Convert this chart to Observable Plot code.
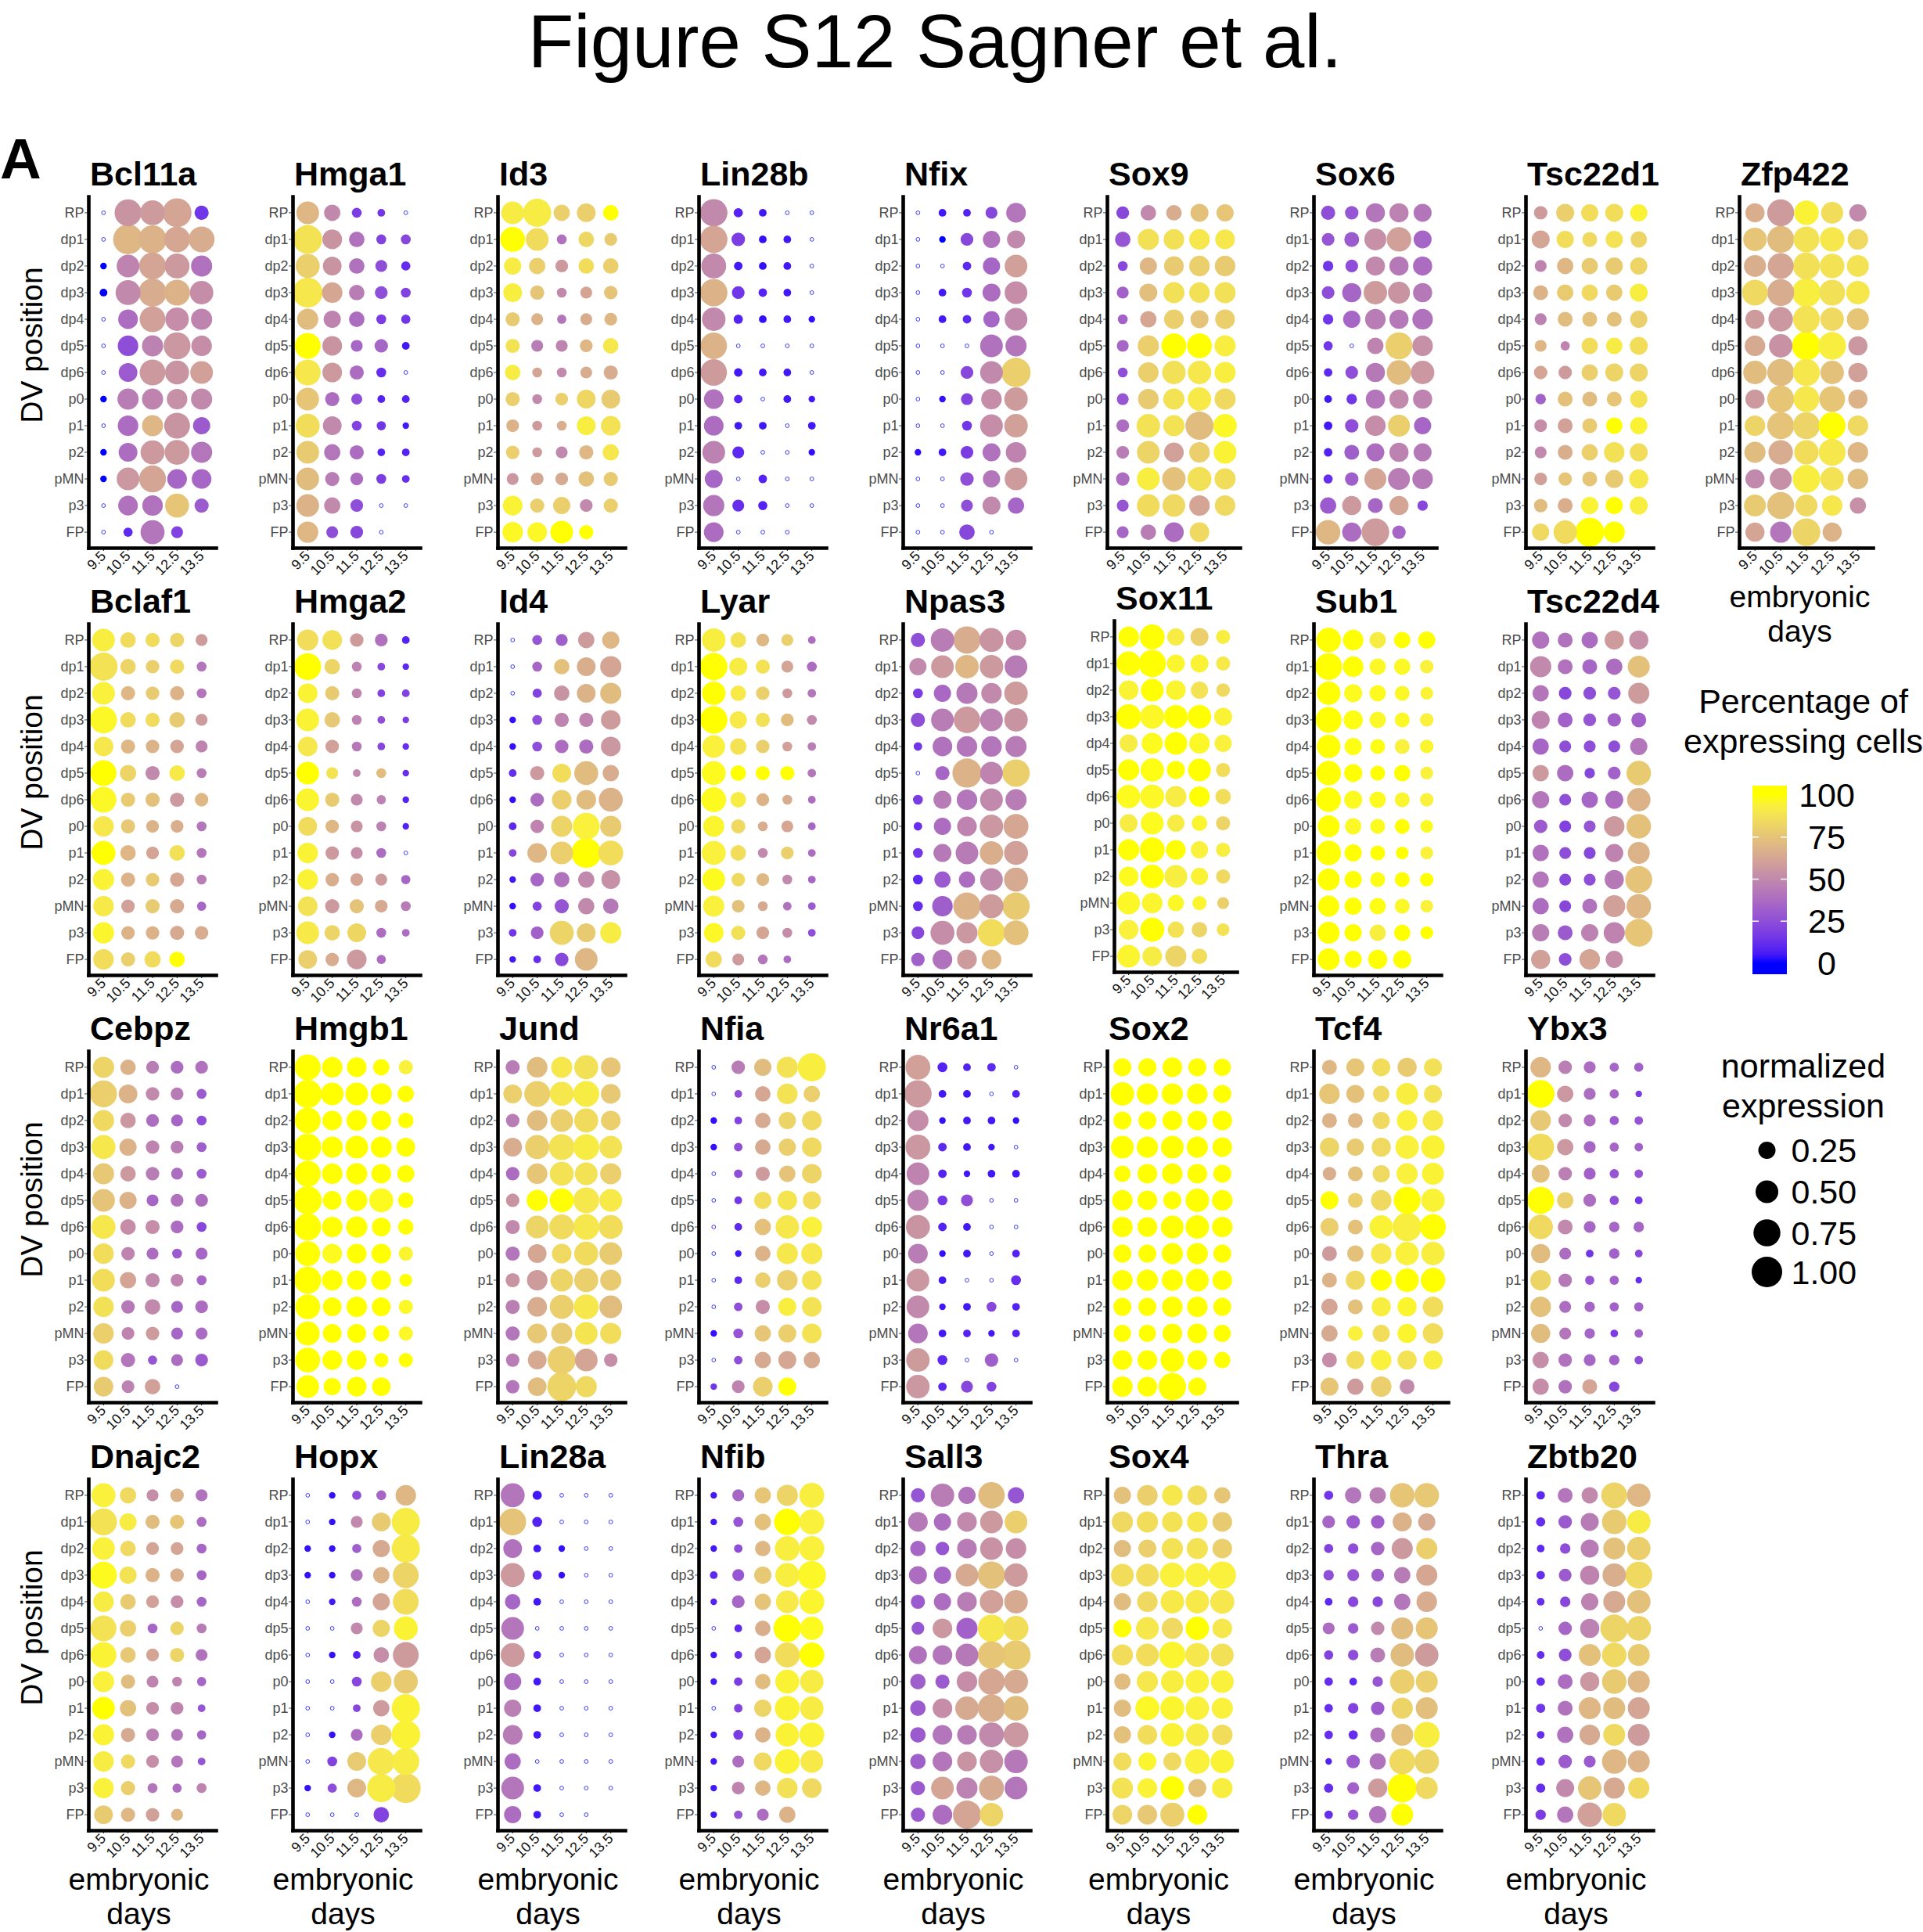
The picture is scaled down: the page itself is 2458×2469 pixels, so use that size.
<!DOCTYPE html>
<html><head><meta charset="utf-8">
<script src="https://cdn.jsdelivr.net/npm/d3@7"></script>
<script src="https://cdn.jsdelivr.net/npm/@observablehq/plot@0.6"></script>
<style>
html,body{margin:0;padding:0;background:#fff;overflow:hidden;}
#page{position:relative;width:2458px;height:2469px;overflow:hidden;background:#fff;}
</style></head><body><div id="page"></div>
<script>
// ---------- categories ----------
const days = ["9.5","10.5","11.5","12.5","13.5"];
const positions = ["RP","dp1","dp2","dp3","dp4","dp5","dp6","p0","p1","p2","pMN","p3","FP"];
const panelRows = [
  ["Bcl11a","Hmga1","Id3","Lin28b","Nfix","Sox9","Sox6","Tsc22d1","Zfp422"],
  ["Bclaf1","Hmga2","Id4","Lyar","Npas3","Sox11","Sub1","Tsc22d4"],
  ["Cebpz","Hmgb1","Jund","Nfia","Nr6a1","Sox2","Tcf4","Ybx3"],
  ["Dnajc2","Hopx","Lin28a","Nfib","Sall3","Sox4","Thra","Zbtb20"]
];
const colorTicks = [0,25,50,75,100];
const sizeTicks = [0.25,0.50,0.75,1.00];

// ---------- values: normalized expression (x100) and % expressing cells, row-major (RP..FP) x (9.5..13.5) ----------
const Bcl11a_expr = [0,75,62,88,15, 0,95,83,68,68, 1,50,75,62,42, 2,62,83,68,54, 0,35,68,54,42, 0,39,42,75,39, 0,31,68,57,50, 1,42,42,39,42, 0,39,42,68,25, 1,31,57,62,42, 1,50,75,35,35, 0,35,39,57,15, 0,4,57,9,null];
const Bcl11a_pct  = [0,55,58,62,15, 0,70,68,63,65, 0,48,62,57,40, 0,50,65,68,52, 0,38,60,52,48, 0,25,47,56,52, 0,30,57,55,60, 0,45,48,53,50, 0,38,70,55,30, 0,38,57,57,42, 0,56,62,35,35, 0,40,40,76,30, 0,10,42,20,null];
const Hmga1_expr = [50,22,5,2,0, 88,35,19,5,5, 57,31,19,9,4, 95,39,19,11,5, 42,25,19,5,4, 68,35,9,13,2, 68,35,15,5,0, 50,15,7,2,2, 57,31,5,4,1, 50,22,15,2,2, 50,15,11,5,2, 50,22,11,0,0, 42,9,11,0,null];
const Hmga1_pct  = [70,50,18,15,0, 88,55,40,20,22, 80,55,40,25,12, 90,63,45,25,20, 72,48,38,18,15, 100,55,35,35,5, 90,57,38,12,0, 76,38,25,8,8, 86,50,20,15,5, 78,42,38,8,8, 72,45,38,18,12, 68,50,25,0,0, 70,25,22,0,null];
const Id3_expr = [50,83,22,31,19, 62,50,5,19,11, 25,22,11,19,19, 31,15,5,9,13, 15,9,4,9,11, 15,9,9,11,19, 19,5,5,9,15, 15,5,11,31,31, 11,5,5,31,35, 13,5,9,15,22, 9,11,11,19,15, 35,15,25,11,15, 39,35,50,15,null];
const Id3_pct  = [92,92,80,80,100, 100,85,40,83,78, 92,80,57,86,80, 93,76,50,62,75, 78,68,42,65,70, 88,45,48,70,90, 92,62,50,65,65, 80,50,80,83,78, 68,58,66,93,88, 80,58,50,70,90, 56,63,64,74,78, 95,80,80,50,80, 97,97,100,100,null];
const Lin28b_expr = [78,4,2,0,0, 78,13,2,2,0, 62,3,2,2,0, 78,11,3,2,0, 54,4,2,2,1, 72,0,0,0,0, 72,3,2,2,0, 35,3,0,2,1, 35,2,2,0,2, 50,9,0,0,1, 28,0,3,0,0, 42,9,4,0,0, 35,0,0,0,null];
const Lin28b_pct  = [50,8,5,0,0, 62,18,3,5,0, 50,5,3,5,0, 68,15,8,5,0, 50,8,3,5,3, 68,0,0,0,0, 58,5,5,5,0, 40,8,0,5,5, 38,5,5,0,5, 47,10,0,0,3, 35,0,8,0,0, 42,12,8,0,0, 38,0,0,0,null];
const Nfix_expr = [0,2,2,9,35, 0,1,11,25,28, 0,0,3,25,50, 0,2,5,28,50, 0,2,3,22,50, 0,0,0,50,42, 0,0,11,50,90, 0,1,9,39,54, 0,0,5,50,54, 1,2,11,28,39, 0,0,13,25,50, 0,0,9,28,22, 0,0,19,0,null];
const Nfix_pct  = [0,5,8,22,42, 0,0,22,40,50, 0,0,10,35,60, 0,5,15,38,52, 0,5,10,35,50, 0,0,0,40,42, 0,0,22,50,80, 0,3,20,52,58, 0,0,15,52,60, 3,5,18,40,48, 0,0,25,42,58, 0,0,25,50,35, 0,0,22,0,null];
const Sox9_expr = [11,19,19,28,25, 19,42,39,39,35, 5,25,35,39,39, 9,28,42,39,42, 5,22,35,28,35, 9,42,62,62,42, 5,39,54,54,42, 9,39,42,54,42, 11,54,42,83,54, 11,50,35,39,50, 13,50,54,57,42, 9,50,50,39,39, 9,19,35,35,null];
const Sox9_pct  = [22,50,65,74,76, 28,87,87,90,90, 22,70,78,80,78, 33,73,87,87,87, 33,63,80,75,80, 35,80,100,100,93, 25,80,87,90,93, 28,78,88,91,84, 38,88,88,72,97, 45,82,60,80,95, 38,93,74,87,86, 28,85,84,62,84, 35,45,38,84,null];
const Sox6_expr = [15,13,33,33,28, 11,17,46,60,28, 6,11,33,33,33, 11,33,54,46,33, 6,25,39,33,39, 4,0,22,75,39, 3,11,33,60,54, 2,6,33,33,33, 3,13,39,46,25, 3,17,28,33,28, 4,13,46,46,39, 22,33,17,33,6, 60,33,80,13,null];
const Sox6_pct  = [25,28,42,47,42, 28,30,53,60,35, 15,25,50,43,38, 25,35,58,55,43, 15,35,45,43,40, 15,0,48,80,53, 10,25,43,72,56, 5,15,42,50,48, 5,25,52,80,35, 8,32,38,47,43, 12,32,62,45,43, 30,57,35,62,22, 70,38,58,35,null];
const Tsc22d1_expr = [13,28,25,28,25, 28,25,17,25,22, 9,22,22,25,25, 17,22,22,22,28, 9,17,17,17,25, 9,4,22,22,28, 13,13,22,28,28, 6,17,17,17,25, 11,17,17,22,25, 9,17,22,39,28, 11,13,17,28,33, 13,17,25,25,28, 25,54,88,42,null];
const Tsc22d1_pct  = [58,80,86,86,95, 62,86,84,88,82, 48,70,78,78,82, 68,78,84,78,93, 47,72,74,74,80, 70,48,86,92,86, 62,58,80,82,82, 33,74,72,76,88, 52,60,78,100,95, 50,66,80,87,86, 60,76,76,78,90, 72,66,95,100,93, 84,85,100,100,null];
const Zfp422_expr = [33,75,60,46,25, 54,75,68,60,39, 46,68,75,60,46, 68,75,88,68,54, 33,60,75,54,46, 39,54,88,80,33, 54,75,75,54,33, 33,75,68,68,33, 39,75,75,75,39, 42,60,60,75,39, 33,46,80,54,39, 46,75,46,39,22, 33,42,80,33,null];
const Zfp422_pct  = [66,58,95,86,50, 76,72,88,90,84, 66,62,87,88,88, 84,65,93,87,90, 58,56,88,84,76, 64,54,100,93,56, 72,72,90,74,60, 57,76,90,76,68, 82,75,82,100,84, 72,65,86,90,70, 50,53,93,88,72, 78,74,84,90,53, 62,42,82,68,null];
const Bclaf1_expr = [50,19,15,15,9, 83,19,13,15,5, 50,15,13,15,5, 75,19,15,19,9, 35,15,13,13,9, 68,22,15,19,5, 68,15,15,15,13, 39,15,11,11,5, 57,19,11,19,5, 42,15,13,15,5, 39,13,15,15,4, 42,13,13,15,13, 39,15,22,19,null];
const Bclaf1_pct  = [93,85,85,82,58, 88,82,80,84,42, 94,70,78,68,42, 97,85,85,78,58, 90,70,68,62,48, 100,82,50,91,45, 97,78,74,57,70, 90,77,68,66,42, 100,70,62,87,42, 95,68,78,63,45, 91,60,78,64,35, 96,68,68,64,65, 86,80,85,100,null];
const Hmga2_expr = [42,35,13,11,2, 75,19,5,2,1, 35,15,5,2,2, 50,19,5,2,1, 35,13,5,2,1, 50,9,2,5,1, 50,15,9,4,1, 31,13,9,5,1, 39,13,9,5,0, 39,13,11,9,4, 35,15,15,11,5, 50,19,31,5,2, 31,13,35,4,null];
const Hmga2_pct  = [86,87,58,40,8, 100,82,47,22,10, 95,78,48,20,20, 95,77,47,25,18, 90,60,43,22,12, 100,88,50,72,12, 96,78,50,47,8, 85,70,55,47,8, 95,57,52,38,0, 95,66,62,58,35, 88,57,75,64,44, 91,82,83,38,38, 80,65,57,38,null];
const Id4_expr = [0,5,9,22,25, 0,5,19,31,42, 0,4,19,31,42, 1,5,15,15,35, 1,5,13,15,35, 2,15,31,57,22, 1,13,35,35,57, 2,13,42,75,42, 2,35,50,95,62, 1,13,19,22,31, 1,4,15,22,19, 2,11,57,31,42, 1,2,13,50,null];
const Id4_pct  = [0,28,32,58,70, 0,35,74,66,62, 0,20,55,68,72, 3,25,48,48,58, 3,25,38,38,56, 12,57,86,72,65, 3,38,80,72,68, 10,48,82,94,78, 22,70,80,100,86, 5,35,40,50,53, 3,20,28,50,43, 15,33,82,78,92, 5,12,22,70,null];
const Lyar_expr = [54,19,11,9,2, 78,28,15,9,5, 54,19,13,5,3, 78,25,15,11,5, 50,22,13,5,3, 57,19,15,15,3, 62,19,11,5,2, 42,15,5,9,2, 57,19,5,11,2, 50,13,11,5,2, 42,11,5,3,2, 35,15,11,5,2, 22,9,5,2,null];
const Lyar_pct  = [93,88,70,80,38, 100,92,88,62,38, 100,91,80,57,42, 100,91,87,72,50, 94,88,80,60,45, 98,100,100,100,42, 98,92,68,65,38, 96,84,65,63,35, 94,86,50,80,38, 98,84,70,50,35, 94,74,64,40,30, 97,87,62,52,25, 85,58,42,38,null];
const Npas3_expr = [15,54,78,57,39, 25,50,54,54,50, 5,25,42,39,54, 15,50,72,50,54, 3,35,39,39,42, 0,15,90,50,78, 5,28,39,50,42, 3,25,35,54,62, 5,28,50,54,57, 5,22,22,50,57, 5,39,78,57,78, 11,57,42,78,62, 13,35,35,35,null];
const Npas3_pct  = [25,45,65,55,52, 50,57,70,57,44, 18,36,43,50,58, 25,45,57,47,55, 15,40,42,42,44, 0,35,68,48,80, 18,44,42,50,45, 12,38,48,56,63, 15,43,44,66,60, 10,30,38,50,64, 12,32,68,58,78, 22,52,56,86,74, 33,40,58,70,null];
const Sox11_expr = [39,62,25,28,15, 57,78,28,28,15, 35,50,35,25,13, 62,57,54,54,28, 28,42,50,39,25, 42,54,28,50,15, 54,57,42,39,19, 28,50,25,19,15, 42,62,35,25,15, 35,54,50,25,15, 50,39,22,15,9, 35,57,22,19,11, 50,35,42,19,null];
const Sox11_pct  = [100,100,92,80,93, 100,100,96,95,91, 95,100,96,88,84, 100,97,100,100,95, 92,98,100,97,94, 100,99,100,100,86, 98,97,92,100,86, 92,98,92,96,82, 100,100,100,94,93, 98,100,93,95,84, 97,96,97,96,80, 94,100,88,82,88, 96,92,82,86,null];
const Sub1_expr = [60,39,22,22,25, 75,39,22,22,13, 54,28,22,17,11, 68,33,22,17,13, 54,25,17,17,13, 60,28,17,22,11, 60,28,22,17,13, 46,22,17,17,11, 60,25,17,11,11, 46,25,17,17,13, 42,25,22,17,11, 46,25,22,22,11, 46,25,33,28,null];
const Sub1_pct  = [100,100,92,100,100, 100,100,97,97,94, 100,98,98,97,95, 100,99,97,97,94, 100,99,99,94,96, 100,100,100,100,94, 100,98,98,96,94, 100,97,98,100,98, 100,100,100,100,94, 100,100,99,100,100, 100,100,99,97,94, 100,100,93,100,100, 100,100,100,100,null];
const Tsc22d4_expr = [25,17,22,33,33, 42,17,17,22,46, 22,11,11,11,42, 28,17,11,13,17, 22,9,9,9,25, 22,22,6,11,60, 25,9,22,28,54, 13,9,9,39,60, 22,9,9,28,46, 22,9,9,33,75, 22,9,17,46,60, 25,17,25,42,80, 33,11,39,25,null];
const Tsc22d4_pct  = [40,40,38,58,53, 50,40,35,38,74, 42,22,25,28,58, 48,33,28,33,33, 35,25,25,25,42, 57,38,22,33,78, 42,25,35,38,68, 30,20,28,57,74, 40,25,22,48,68, 42,22,25,43,75, 38,22,40,60,70, 45,30,47,48,76, 60,25,62,52,null];
const Cebpz_expr = [42,19,11,11,11, 75,31,13,11,5, 42,19,11,9,5, 57,25,13,11,5, 42,19,13,9,5, 50,25,9,11,11, 57,19,15,11,5, 39,13,9,5,9, 50,22,15,11,5, 39,13,19,9,11, 39,11,13,9,9, 35,15,4,9,11, 35,11,19,0,null];
const Cebpz_pct  = [82,68,45,38,40, 80,68,50,44,30, 84,56,38,35,25, 90,68,48,45,32, 77,57,45,38,30, 75,68,35,40,38, 90,52,52,38,22, 86,48,38,30,35, 86,62,50,48,35, 87,43,50,35,38, 80,48,58,35,37, 85,42,28,38,30, 78,47,60,0,null];
const Hmgb1_expr = [68,39,35,22,15, 83,50,50,42,22, 68,35,39,35,19, 75,42,50,42,31, 68,39,42,35,25, 83,31,42,57,19, 75,39,42,31,19, 62,35,35,35,15, 75,39,35,35,11, 62,31,39,31,15, 57,31,31,22,15, 62,35,35,15,15, 50,25,35,31,null];
const Hmgb1_pct  = [100,100,100,100,94, 100,100,100,100,100, 100,100,100,100,100, 100,100,100,100,100, 100,100,100,100,100, 100,100,100,98,100, 100,100,100,100,100, 100,98,100,100,96, 100,100,100,100,100, 100,100,100,100,97, 100,100,100,100,97, 100,100,100,100,100, 100,100,100,100,null];
const Jund_expr = [15,39,42,57,35, 31,68,57,68,35, 13,39,50,57,35, 31,57,68,68,50, 13,39,57,50,42, 13,42,57,68,50, 15,50,62,68,57, 15,31,35,57,50, 15,39,50,57,42, 15,35,57,62,50, 15,35,42,50,42, 13,31,83,50,13, 13,31,88,42,null];
const Jund_pct  = [45,72,90,87,76, 80,80,90,92,77, 45,72,80,85,80, 65,80,88,92,88, 38,76,88,88,80, 55,100,100,90,91, 50,82,85,90,86, 42,63,84,85,78, 55,58,82,80,78, 46,65,80,90,72, 42,77,78,89,86, 45,64,80,62,52, 42,72,82,84,null];
const Nfia_expr = [0,13,25,42,83, 0,2,19,39,22, 1,2,19,25,35, 1,3,19,25,35, 0,3,15,22,35, 0,2,25,35,28, 0,2,22,54,39, 0,1,19,42,42, 0,2,19,39,35, 0,3,15,28,35, 1,5,22,28,35, 0,3,22,28,22, 1,11,35,28,null];
const Nfia_pct  = [0,45,72,88,93, 0,25,63,88,80, 3,20,64,82,84, 3,25,64,80,84, 0,25,58,75,82, 0,15,86,89,86, 0,10,74,90,94, 0,5,68,90,90, 0,10,80,80,88, 0,25,52,93,88, 3,28,76,80,88, 0,25,64,63,64, 15,48,80,100,null];
const Nr6a1_expr = [62,5,2,3,0, 78,2,2,0,2, 42,1,2,2,1, 62,3,2,1,0, 50,3,1,2,2, 42,5,9,0,0, 57,3,2,0,0, 35,1,2,0,2, 50,2,0,0,5, 50,1,2,5,2, 35,2,2,1,2, 54,5,0,13,0, 54,3,9,5,null];
const Nr6a1_pct  = [60,8,8,10,0, 57,5,5,0,8, 52,3,5,5,3, 56,10,5,5,0, 48,8,5,5,5, 47,15,25,0,0, 55,8,5,0,0, 45,3,5,0,8, 56,5,0,0,12, 50,5,5,22,8, 42,5,8,5,8, 58,10,0,32,0, 56,10,22,20,null];
const Sox2_expr = [28,28,35,28,25, 54,42,42,39,28, 28,28,35,35,35, 50,42,50,42,35, 22,35,39,35,28, 39,35,28,54,39, 39,35,50,54,39, 28,28,42,42,28, 39,42,42,50,35, 28,28,39,39,28, 25,25,35,35,25, 35,35,54,35,22, 39,35,78,28,null];
const Sox2_pct  = [100,100,100,100,100, 100,100,100,100,100, 100,100,100,100,100, 100,100,100,100,100, 100,100,100,100,100, 100,100,100,100,100, 100,100,100,100,100, 100,100,100,100,100, 100,100,100,100,100, 100,100,100,100,100, 100,100,100,100,100, 100,100,100,100,100, 100,100,100,100,null];
const Tcf4_expr = [17,28,28,33,28, 39,28,22,46,28, 17,17,25,39,39, 33,25,33,54,54, 13,17,25,42,46, 28,17,39,75,54, 28,17,54,88,68, 17,22,39,54,54, 17,33,42,54,60, 22,17,33,33,39, 22,17,25,33,39, 17,28,39,33,33, 28,22,39,17,null];
const Tcf4_pct  = [70,76,86,78,87, 76,74,84,93,88, 68,70,84,94,91, 82,78,84,94,95, 66,74,84,94,95, 100,80,84,100,95, 80,74,95,93,100, 58,74,90,94,93, 68,84,100,100,100, 62,74,93,96,86, 64,94,86,96,86, 52,86,94,88,93, 76,58,80,50,null];
const Ybx3_expr = [39,13,9,4,4, 80,22,9,4,1, 39,13,9,4,3, 75,22,9,4,3, 28,13,9,4,3, 75,22,11,4,2, 60,17,9,6,6, 33,9,2,6,2, 39,13,4,4,1, 39,9,6,4,4, 33,9,6,2,3, 22,13,9,6,3, 22,13,17,6,null];
const Ybx3_pct  = [70,46,38,35,33, 100,56,38,35,18, 77,50,38,30,28, 85,56,35,35,33, 74,46,33,28,28, 100,80,38,25,15, 84,50,35,35,35, 72,38,15,33,22, 82,43,28,33,12, 74,38,35,33,33, 72,42,35,18,33, 52,40,35,33,25, 52,40,62,22,null];
const Dnajc2_expr = [57,22,9,13,9, 75,25,15,15,5, 50,19,11,11,5, 75,25,15,13,5, 39,19,11,11,5, 68,22,5,13,5, 68,19,11,15,9, 42,15,9,5,4, 50,22,11,11,2, 42,15,11,9,4, 39,15,11,9,2, 39,15,5,4,5, 31,15,13,9,null];
const Dnajc2_pct  = [94,84,52,68,40, 88,92,72,76,38, 94,84,62,62,35, 98,88,68,66,35, 92,78,60,52,35, 88,80,35,82,44, 95,77,62,82,40, 94,72,48,48,35, 100,74,52,48,28, 95,64,46,42,35, 92,84,52,42,28, 94,80,42,38,48, 78,70,60,70,null];
const Hopx_expr = [0,1,4,5,39, 0,1,9,31,83, 1,1,4,25,83, 1,1,9,22,68, 0,1,5,25,68, 0,0,9,25,57, 0,1,2,19,68, 0,0,5,39,57, 0,0,2,22,83, 0,1,9,39,88, 0,5,31,75,75, 1,4,31,83,95, 0,0,0,19,null];
const Hopx_pct  = [0,3,25,35,70, 0,3,50,78,92, 3,3,32,64,91, 3,3,40,68,82, 0,5,38,62,86, 0,0,50,82,95, 0,3,8,52,58, 0,0,22,80,78, 0,0,22,58,95, 0,3,38,80,95, 0,20,78,90,92, 3,25,70,92,85, 0,0,0,20,null];
const Lin28a_expr = [57,4,0,0,0, 75,5,0,0,0, 31,2,1,0,0, 57,4,1,0,0, 19,2,0,0,0, 50,0,0,0,0, 57,2,0,0,0, 25,2,0,0,0, 25,2,0,0,0, 35,2,0,0,0, 22,0,0,0,0, 50,2,0,0,0, 25,2,0,0,null];
const Lin28a_pct  = [42,5,0,0,0, 75,8,0,0,0, 40,5,3,0,0, 57,8,3,0,0, 35,5,0,0,0, 42,0,0,0,0, 57,8,0,0,0, 38,5,0,0,0, 46,5,0,0,0, 44,5,0,0,0, 38,0,0,0,0, 42,5,0,0,0, 38,5,0,0,null];
const Nfib_expr = [1,9,22,42,62, 1,5,22,72,62, 1,3,19,62,62, 2,9,25,57,83, 1,11,22,50,62, 0,2,19,78,54, 1,2,22,62,62, 1,3,19,57,54, 0,3,25,62,54, 1,5,19,54,62, 1,9,28,62,50, 1,11,19,39,35, 1,3,9,22,null];
const Nfib_pct  = [5,35,76,82,93, 5,28,74,100,94, 5,25,70,93,94, 10,28,77,93,97, 8,35,75,91,96, 0,10,66,100,98, 5,12,62,86,100, 5,18,72,95,92, 0,20,82,95,92, 5,18,68,95,95, 5,38,84,95,91, 5,48,70,87,84, 5,28,38,68,null];
const Sall3_expr = [15,54,25,72,22, 35,25,35,50,50, 19,13,35,50,39, 28,25,50,78,54, 15,25,35,54,54, 11,35,42,78,62, 28,35,50,78,90, 19,15,39,72,57, 19,35,54,78,62, 19,35,35,62,62, 19,35,35,54,54, 15,50,42,62,50, 15,35,83,54,null];
const Sall3_pct  = [28,45,40,72,28, 43,38,50,57,80, 35,28,44,54,52, 38,35,64,74,58, 30,38,45,60,64, 28,56,33,90,86, 40,42,43,76,78, 32,30,52,63,64, 30,52,64,66,72, 30,42,44,50,56, 32,42,55,53,43, 30,62,47,64,42, 30,38,62,82,null];
const Sox4_expr = [25,39,39,35,22, 42,42,39,39,35, 25,28,42,42,35, 50,50,62,57,78, 25,39,54,54,57, 28,50,42,54,35, 42,50,72,57,50, 22,42,50,54,50, 25,57,57,54,42, 25,35,54,50,39, 28,28,28,62,54, 42,35,54,28,39, 35,35,57,35,null];
const Sox4_pct  = [74,80,90,86,76, 84,86,88,90,78, 72,80,88,88,80, 86,86,94,94,94, 72,84,91,91,90, 100,90,84,100,90, 86,86,96,90,87, 72,90,93,94,94, 72,97,96,94,94, 74,86,95,92,86, 86,96,84,94,95, 88,95,100,74,93, 82,77,80,100,null];
const Thra_expr = [4,22,22,60,60, 11,13,13,33,25, 4,6,13,42,42, 6,9,11,22,42, 2,6,6,22,39, 9,6,13,46,46, 4,6,17,54,54, 3,2,6,60,46, 3,6,13,42,46, 3,4,17,46,68, 1,13,22,68,60, 4,9,33,88,46, 3,6,25,46,null];
const Thra_pct  = [15,42,45,76,77, 35,30,32,68,64, 20,25,35,57,80, 25,28,32,44,63, 10,22,22,42,65, 38,30,50,72,76, 20,25,45,72,58, 12,10,28,80,80, 12,20,30,82,73, 12,12,40,74,93, 8,30,40,84,82, 12,33,58,100,84, 12,28,40,100,null];
const Zbtb20_expr = [3,17,22,68,54, 4,13,28,60,54, 2,6,28,46,54, 3,11,33,54,75, 2,6,25,46,54, 0,13,33,80,60, 2,11,46,60,46, 3,17,33,60,46, 4,17,46,46,46, 2,22,39,46,46, 3,13,9,60,46, 4,28,54,42,42, 6,22,60,54,null];
const Zbtb20_pct  = [10,42,50,82,70, 12,30,44,78,92, 10,25,44,74,80, 12,30,48,66,84, 12,22,47,64,74, 0,35,47,82,82, 12,25,74,84,78, 12,38,56,78,70, 15,40,70,72,62, 12,40,64,84,58, 12,30,30,70,68, 12,50,76,64,84, 18,42,60,84,null];

const geneTable = {
  Bcl11a:[Bcl11a_expr,Bcl11a_pct], Hmga1:[Hmga1_expr,Hmga1_pct], Id3:[Id3_expr,Id3_pct], Lin28b:[Lin28b_expr,Lin28b_pct],
  Nfix:[Nfix_expr,Nfix_pct], Sox9:[Sox9_expr,Sox9_pct], Sox6:[Sox6_expr,Sox6_pct], Tsc22d1:[Tsc22d1_expr,Tsc22d1_pct],
  Zfp422:[Zfp422_expr,Zfp422_pct], Bclaf1:[Bclaf1_expr,Bclaf1_pct], Hmga2:[Hmga2_expr,Hmga2_pct], Id4:[Id4_expr,Id4_pct],
  Lyar:[Lyar_expr,Lyar_pct], Npas3:[Npas3_expr,Npas3_pct], Sox11:[Sox11_expr,Sox11_pct], Sub1:[Sub1_expr,Sub1_pct],
  Tsc22d4:[Tsc22d4_expr,Tsc22d4_pct], Cebpz:[Cebpz_expr,Cebpz_pct], Hmgb1:[Hmgb1_expr,Hmgb1_pct], Jund:[Jund_expr,Jund_pct],
  Nfia:[Nfia_expr,Nfia_pct], Nr6a1:[Nr6a1_expr,Nr6a1_pct], Sox2:[Sox2_expr,Sox2_pct], Tcf4:[Tcf4_expr,Tcf4_pct],
  Ybx3:[Ybx3_expr,Ybx3_pct], Dnajc2:[Dnajc2_expr,Dnajc2_pct], Hopx:[Hopx_expr,Hopx_pct], Lin28a:[Lin28a_expr,Lin28a_pct],
  Nfib:[Nfib_expr,Nfib_pct], Sall3:[Sall3_expr,Sall3_pct], Sox4:[Sox4_expr,Sox4_pct], Thra:[Thra_expr,Thra_pct],
  Zbtb20:[Zbtb20_expr,Zbtb20_pct]
};

// ---------- layout (pixels) ----------
const FONT = '"Liberation Sans", Arial, Helvetica, sans-serif';
const colX = [113, 374, 636, 893, 1154, 1415, 1679, 1950, 2223];
const rowY = [251, 797, 1343, 1890];
const PANEL_W = 163, PANEL_H = 449;
const widthOverride = {Sox9:170, Sox6:157, Zfp422:171, Sox11:157, Sox2:166, Tcf4:172, Sox4:166};
const shiftOverride = {Sox11:[9,-4]};
const ML = 92, MT = 6, MR = 10, MB = 60;

const rOpts = {type:"pow", exponent:0.5, domain:[0,100], range:[2.5,19.5]};
const colorOpts = {type:"linear", domain:[0,100], range:["blue","yellow"], interpolate: d3.interpolateLab};
const rScale = Plot.scale({r: rOpts});
const cScale = Plot.scale({color: colorOpts});

const page = document.getElementById("page");

function drawPanel(gene, x0, y0, w) {
  const [ex, pc] = geneTable[gene];
  const rows = [];
  ex.forEach((e, i) => {
    if (e === null || e === undefined) return;
    rows.push({pos: positions[Math.floor(i / days.length)], day: days[i % days.length], expr: e, pct: pc[i]});
  });
  const chart = Plot.plot({
    width: ML + w + MR, height: MT + PANEL_H + MB,
    marginLeft: ML, marginRight: MR, marginTop: MT, marginBottom: MB,
    style: {fontFamily: FONT, background: "transparent", overflow: "visible"},
    x: {type: "point", domain: days, padding: 0.6, round: false},
    y: {type: "point", domain: positions, padding: 0.6, round: false},
    r: rOpts,
    color: colorOpts,
    marks: [
      Plot.dot(rows.filter(d => d.expr > 0), {x: "day", y: "pos", r: "expr", fill: "pct", stroke: null}),
      Plot.dot(rows.filter(d => d.expr === 0), {x: "day", y: "pos", r: 2.4, fill: "white", stroke: "pct", strokeWidth: 1, strokeOpacity: 0.75}),
      Plot.axisY({tickSize: 5, tickPadding: 1, fontSize: 18, color: "#4d4d4d", label: null}),
      Plot.axisX({tickSize: 4, tickPadding: 3, tickRotate: -45, fontSize: 18, color: "#111", label: null}),
      Plot.frame({anchor: "left", stroke: "black", strokeWidth: 4.6}),
      Plot.frame({anchor: "bottom", stroke: "black", strokeWidth: 4.6})
    ]
  });
  const div = document.createElement("div");
  div.style.position = "absolute";
  div.style.left = (x0 - ML) + "px";
  div.style.top = (y0 - MT) + "px";
  div.appendChild(chart);
  page.appendChild(div);
}

const panelInfo = [];
panelRows.forEach((row, ri) => {
  row.forEach((gene, ci) => {
    const sh = shiftOverride[gene] || [0, 0];
    const x0 = colX[ci] + sh[0], y0 = rowY[ri] + sh[1];
    const w = widthOverride[gene] || PANEL_W;
    drawPanel(gene, x0, y0, w);
    panelInfo.push({gene, ri, ci, x0, y0, w});
  });
});

// ---------- overlay text & legends ----------
const ov = d3.select(page).append("svg")
  .attr("width", 2458).attr("height", 2469)
  .style("position", "absolute").style("left", "0px").style("top", "0px")
  .style("font-family", FONT).style("pointer-events", "none");

ov.append("text").attr("x", 1195).attr("y", 86).attr("text-anchor", "middle")
  .attr("font-size", 96).attr("fill", "#000").text("Figure S12 Sagner et al.");
ov.append("text").attr("x", 0).attr("y", 228).attr("font-size", 73).attr("font-weight", "bold").text("A");

panelInfo.forEach(p => {
  ov.append("text").attr("x", p.x0 + 2).attr("y", p.y0 - 14).attr("font-size", 43)
    .attr("font-weight", "bold").text(p.gene);
});

rowY.forEach(y => {
  ov.append("text").attr("transform", `translate(40,${y + 190}) rotate(-90)`)
    .attr("text-anchor", "middle").attr("dominant-baseline", "central")
    .attr("font-size", 39).text("DV position");
});

// x-axis titles under the bottom panel of each column
const lastInCol = {};
panelInfo.forEach(p => { if (!lastInCol[p.ci] || lastInCol[p.ci].ri < p.ri) lastInCol[p.ci] = p; });
Object.values(lastInCol).forEach(p => {
  const cx = p.x0 + p.w / 2 - (p.ri === 3 ? 17 : 8);
  const bottom = p.y0 + PANEL_H;
  ov.append("text").attr("x", cx).attr("y", bottom + 76).attr("text-anchor", "middle").attr("font-size", 39).text("embryonic");
  ov.append("text").attr("x", cx).attr("y", bottom + 120).attr("text-anchor", "middle").attr("font-size", 39).text("days");
});

// colour legend
ov.append("text").attr("x", 2305).attr("y", 911).attr("text-anchor", "middle").attr("font-size", 43).text("Percentage of");
ov.append("text").attr("x", 2305).attr("y", 962).attr("text-anchor", "middle").attr("font-size", 43).text("expressing cells");
const barX = 2240, barW = 44, barTop = 1004, barBot = 1245, v100 = 1016, v0 = 1231;
const defs = ov.append("defs");
const grad = defs.append("linearGradient").attr("id", "cbar").attr("x1", 0).attr("x2", 0).attr("y1", 1).attr("y2", 0);
d3.range(0, 21).forEach(k => {
  const v = k * 5;
  const off = ((v0 - (v0 - v100) * v / 100) - barBot) / (barTop - barBot);
  grad.append("stop").attr("offset", Math.max(0, Math.min(1, off))).attr("stop-color", cScale.apply(v));
});
ov.append("rect").attr("x", barX).attr("y", barTop).attr("width", barW).attr("height", barBot - barTop).attr("fill", "url(#cbar)");
colorTicks.forEach(v => {
  const y = v0 - (v0 - v100) * v / 100;
  if (v > 0 && v < 100) {
    ov.append("line").attr("x1", barX).attr("x2", barX + 8).attr("y1", y).attr("y2", y).attr("stroke", "white").attr("stroke-width", 1.5);
    ov.append("line").attr("x1", barX + barW - 8).attr("x2", barX + barW).attr("y1", y).attr("y2", y).attr("stroke", "white").attr("stroke-width", 1.5);
  }
  ov.append("text").attr("x", 2335).attr("y", y).attr("text-anchor", "middle").attr("dominant-baseline", "central")
    .attr("font-size", 43).text(String(v));
});

// size legend
ov.append("text").attr("x", 2305).attr("y", 1377).attr("text-anchor", "middle").attr("font-size", 43).text("normalized");
ov.append("text").attr("x", 2305).attr("y", 1428).attr("text-anchor", "middle").attr("font-size", 43).text("expression");
const sizeY = [1470, 1523, 1575.5, 1625.5];
sizeTicks.forEach((v, i) => {
  ov.append("circle").attr("cx", 2258.5).attr("cy", sizeY[i]).attr("r", rScale.apply(v * 100)).attr("fill", "black");
  ov.append("text").attr("x", 2289.5).attr("y", sizeY[i]).attr("dominant-baseline", "central")
    .attr("font-size", 43).text(v.toFixed(2));
});
</script>
</body></html>
